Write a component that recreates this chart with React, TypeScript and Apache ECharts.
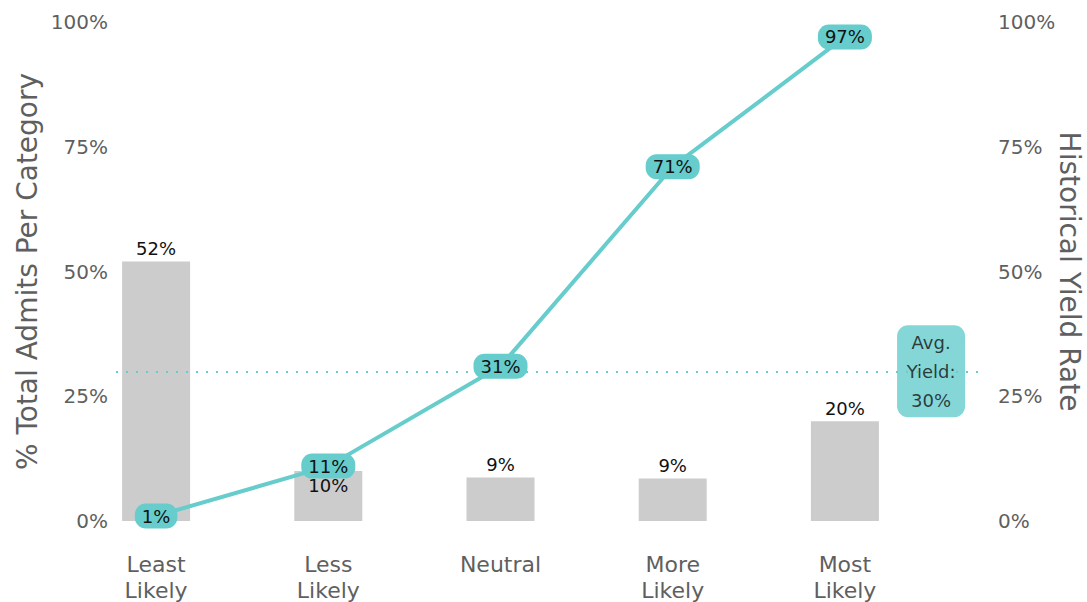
import React, { useEffect, useRef } from "react";
import * as echarts from "echarts";

const categories = ["Least\nLikely", "Less\nLikely", "Neutral", "More\nLikely", "Most\nLikely"];
const admitShare = [0.52, 0.1, 0.087, 0.085, 0.2];
const yieldRate = [0.01, 0.11, 0.31, 0.71, 0.97];
const avgYield = 0.3;
const avgLabelCategoryPos = 4.5;

const TEAL = "#66CCCC";
const GREY_TEXT = "#5f5f5f";
const FONT = "'DejaVu Sans', Lato, sans-serif";
const W = "normal";

const pct = (v: number) => Math.round(v * 100) + "%";

export default function App() {
  const ref = useRef<HTMLDivElement>(null);
  useEffect(() => {
    if (!ref.current) return;
    const chart = echarts.init(ref.current, undefined, { renderer: "svg" });
    const barData = admitShare.map((v, i) =>
      i === 1 ? { value: v, label: { position: "insideTop", distance: 5 } } : v
    );
    chart.setOption({
      animation: false,
      backgroundColor: "#ffffff",
      textStyle: { fontFamily: FONT, fontWeight: W },
      grid: [
        { left: 70, right: 156, top: 22, bottom: 81, outerBoundsMode: "none", containLabel: false },
        { left: 116, right: 102, top: 22, bottom: 81, outerBoundsMode: "none", containLabel: false },
      ],
      xAxis: [
        {
          type: "category",
          gridIndex: 0,
          data: categories,
          axisLine: { show: false },
          axisTick: { show: false },
          axisLabel: {
            color: GREY_TEXT,
            fontSize: 22,
            lineHeight: 26,
            margin: 30,
            fontFamily: FONT,
            fontWeight: W,
          },
        },
        { type: "value", gridIndex: 1, min: -0.232, max: 4.813, show: false },
      ],
      yAxis: [
        {
          type: "value",
          gridIndex: 0,
          position: "left",
          min: 0,
          max: 1,
          interval: 0.25,
          name: "% Total Admits Per Category",
          nameLocation: "middle",
          nameGap: 29,
          nameMoveOverlap: false,
          nameTextStyle: { color: GREY_TEXT, fontSize: 28, fontFamily: FONT, fontWeight: W },
          axisLine: { show: false },
          axisTick: { show: false },
          splitLine: { show: false },
          axisLabel: { formatter: pct, margin: -38, color: GREY_TEXT, fontSize: 20, fontFamily: FONT, fontWeight: W },
        },
        {
          type: "value",
          gridIndex: 0,
          position: "right",
          min: 0,
          max: 1,
          interval: 0.25,
          name: "Historical Yield Rate",
          nameLocation: "middle",
          nameRotate: -90,
          nameGap: 124,
          nameMoveOverlap: false,
          nameTextStyle: { color: GREY_TEXT, fontSize: 28, fontFamily: FONT, fontWeight: W },
          axisLine: { show: false },
          axisTick: { show: false },
          splitLine: { show: false },
          axisLabel: { formatter: pct, margin: 67, color: GREY_TEXT, fontSize: 20, fontFamily: FONT, fontWeight: W },
        },
        { type: "value", gridIndex: 1, min: 0, max: 1, show: false },
      ],
      series: [
        {
          type: "bar",
          xAxisIndex: 0,
          yAxisIndex: 0,
          data: barData,
          barWidth: 68,
          itemStyle: { color: "#cccccc" },
          z: 2,
          label: {
            show: true,
            position: "top",
            distance: 4,
            color: "#111111",
            fontSize: 18,
            fontFamily: FONT,
            fontWeight: W,
            formatter: (p: any) => pct(p.value),
          },
        },
        {
          type: "line",
          xAxisIndex: 0,
          yAxisIndex: 1,
          data: yieldRate,
          symbol: "circle",
          symbolSize: 1,
          itemStyle: { color: TEAL },
          lineStyle: { color: TEAL, width: 4 },
          z: 4,
          label: {
            show: true,
            position: "inside",
            color: "#111111",
            fontSize: 18,
            fontFamily: FONT,
            fontWeight: W,
            backgroundColor: TEAL,
            borderRadius: 11,
            padding: [4, 7, 3, 7],
            formatter: (p: any) => pct(p.value),
          },
        },
        {
          type: "scatter",
          xAxisIndex: 1,
          yAxisIndex: 2,
          data: [[avgLabelCategoryPos, avgYield]],
          symbol: "circle",
          symbolSize: 1,
          itemStyle: { color: TEAL },
          z: 6,
          label: {
            show: true,
            position: "inside",
            formatter: () => "Avg.\nYield:\n" + pct(avgYield),
            color: "#111111",
            fontSize: 18,
            fontFamily: FONT,
            fontWeight: W,
            lineHeight: 29,
            width: 54,
            align: "center",
            backgroundColor: TEAL,
            borderRadius: 11,
            padding: [3, 7, 2, 7],
          },
          markLine: {
            silent: true,
            symbol: "none",
            z: 3,
            label: { show: false },
            lineStyle: { color: TEAL, type: [2, 8], width: 2 },
            data: [{ yAxis: avgYield }],
          },
        },
      ],
    });
    return () => chart.dispose();
  }, []);
  return (
    <div
      ref={ref}
      style={{ position: "fixed", left: 0, top: 0, width: 1087, height: 602, background: "#fff" }}
    />
  );
}
